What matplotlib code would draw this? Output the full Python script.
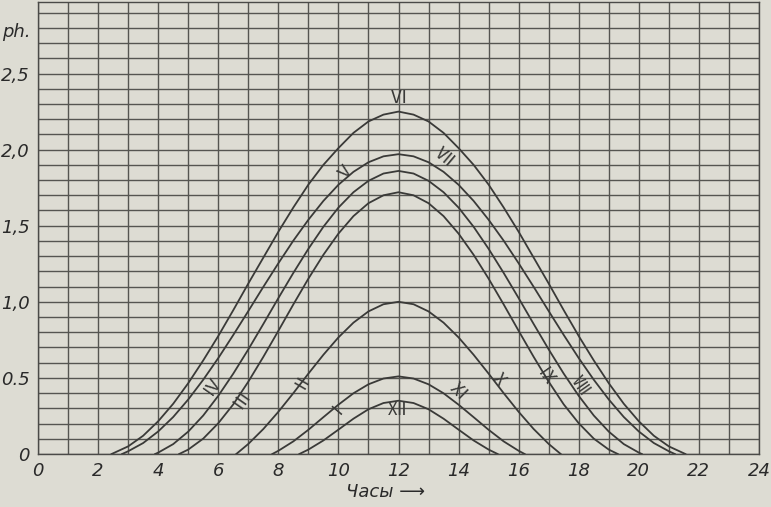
import numpy as np
import matplotlib
matplotlib.use('Agg')
import matplotlib.pyplot as plt

# hours of the day and intensity (ph.), one list per month group
hours_vi = [2.45, 3, 3.5, 4, 4.5, 5, 5.5, 6, 6.5, 7, 7.5, 8, 8.5, 9, 9.5, 10, 10.5, 11, 11.5, 12,
            12.5, 13, 13.5, 14, 14.5, 15, 15.5, 16, 16.5, 17, 17.5, 18, 18.5, 19, 19.5, 20, 20.5, 21, 21.55]
ph_vi = [0, 0.05, 0.12, 0.215, 0.33, 0.465, 0.615, 0.775, 0.945, 1.12, 1.29, 1.46, 1.62, 1.77,
         1.9, 2.01, 2.11, 2.185, 2.23, 2.25, 2.23, 2.185, 2.11, 2.01, 1.9, 1.77, 1.62, 1.46,
         1.29, 1.12, 0.945, 0.775, 0.615, 0.465, 0.33, 0.215, 0.12, 0.05, 0]

hours_v = [2.8, 3, 3.5, 4, 4.5, 5, 5.5, 6, 6.5, 7, 7.5, 8, 8.5, 9, 9.5, 10, 10.5, 11, 11.5, 12,
           12.5, 13, 13.5, 14, 14.5, 15, 15.5, 16, 16.5, 17, 17.5, 18, 18.5, 19, 19.5, 20, 20.5, 21, 21.2]
ph_v = [0, 0.018, 0.072, 0.148, 0.243, 0.358, 0.488, 0.630, 0.782, 0.939, 1.098, 1.253, 1.402, 1.539,
        1.663, 1.769, 1.854, 1.917, 1.956, 1.97, 1.956, 1.917, 1.854, 1.769, 1.663, 1.539, 1.402, 1.253,
        1.098, 0.939, 0.782, 0.630, 0.488, 0.358, 0.243, 0.148, 0.072, 0.018, 0]

hours_iv = [3.9, 4, 4.5, 5, 5.5, 6, 6.5, 7, 7.5, 8, 8.5, 9, 9.5, 10, 10.5, 11, 11.5, 12,
            12.5, 13, 13.5, 14, 14.5, 15, 15.5, 16, 16.5, 17, 17.5, 18, 18.5, 19, 19.5, 20, 20.1]
ph_iv = [0, 0.009, 0.065, 0.147, 0.253, 0.382, 0.528, 0.687, 0.854, 1.024, 1.19, 1.348, 1.493, 1.619,
         1.72, 1.795, 1.843, 1.86, 1.843, 1.795, 1.72, 1.619, 1.493, 1.348, 1.19, 1.024, 0.854, 0.687,
         0.528, 0.382, 0.253, 0.147, 0.065, 0.009, 0]

hours_iii = [4.7, 5, 5.5, 6, 6.5, 7, 7.5, 8, 8.5, 9, 9.5, 10, 10.5, 11, 11.5, 12,
             12.5, 13, 13.5, 14, 14.5, 15, 15.5, 16, 16.5, 17, 17.5, 18, 18.5, 19, 19.3]
ph_iii = [0, 0.029, 0.101, 0.202, 0.326, 0.475, 0.638, 0.809, 0.983, 1.152, 1.309, 1.448, 1.563, 1.648,
          1.70, 1.72, 1.70, 1.648, 1.563, 1.448, 1.309, 1.152, 0.983, 0.809, 0.638, 0.475, 0.326, 0.202,
          0.101, 0.029, 0]

hours_ii = [6.6, 7, 7.5, 8, 8.5, 9, 9.5, 10, 10.5, 11, 11.5, 12,
            12.5, 13, 13.5, 14, 14.5, 15, 15.5, 16, 16.5, 17, 17.4]
ph_ii = [0, 0.066, 0.164, 0.277, 0.40, 0.528, 0.652, 0.766, 0.863, 0.937, 0.984, 1.0,
         0.984, 0.937, 0.863, 0.766, 0.652, 0.528, 0.40, 0.277, 0.164, 0.066, 0]

hours_i = [7.8, 8, 8.5, 9, 9.5, 10, 10.5, 11, 11.5, 12, 12.5, 13, 13.5, 14, 14.5, 15, 15.5, 16, 16.2]
ph_i = [0, 0.021, 0.083, 0.159, 0.242, 0.324, 0.399, 0.458, 0.496, 0.51,
        0.496, 0.458, 0.399, 0.324, 0.242, 0.159, 0.083, 0.021, 0]

hours_xii = [8.7, 9, 9.5, 10, 10.5, 11, 11.5, 12, 12.5, 13, 13.5, 14, 14.5, 15, 15.3]
ph_xii = [0, 0.029, 0.089, 0.16, 0.232, 0.294, 0.335, 0.35, 0.335, 0.294, 0.232, 0.16, 0.089, 0.029, 0]

# month labels: text, hour, ph, rotation
labels = ['Ⅵ', 'Ⅴ', 'Ⅶ', 'Ⅳ', 'Ⅲ', 'Ⅱ', 'Ⅰ', 'Ⅻ', 'Ⅺ', 'Ⅹ', 'Ⅸ', 'Ⅷ']
label_x = [12.0, 10.2, 13.5, 5.8, 6.75, 8.75, 9.9, 11.95, 13.95, 15.3, 16.9, 18.05]
label_y = [2.34, 1.87, 1.95, 0.45, 0.36, 0.49, 0.32, 0.29, 0.41, 0.47, 0.50, 0.45]
label_rot = [0, 50, -40, 55, 55, 60, 50, 0, -45, -50, -55, -55]

paper = '#dddcd3'
ink = '#3a3a38'

fig = plt.figure(figsize=(7.71, 5.07), dpi=100, facecolor=paper)
ax = fig.add_axes([38 / 771, 53 / 507, 721 / 771, 452 / 507])
ax.set_facecolor(paper)

for h, p in [(hours_vi, ph_vi), (hours_v, ph_v), (hours_iv, ph_iv), (hours_iii, ph_iii),
             (hours_ii, ph_ii), (hours_i, ph_i), (hours_xii, ph_xii)]:
    ax.plot(h, p, color=ink, lw=1.3, zorder=3)

for s, x, y, r in zip(labels, label_x, label_y, label_rot):
    ax.text(x, y, s, family=['Noto Sans CJK JP', 'DejaVu Serif'], fontsize=13, color=ink,
            rotation=r, ha='center', va='center', zorder=4)

ax.set_xlim(0, 24)
ax.set_ylim(0, 2.97)
ax.set_xticks(np.arange(0, 25, 2))
ax.set_xticks(np.arange(0, 25, 1), minor=True)
ax.set_yticks([0, 0.5, 1.0, 1.5, 2.0, 2.5])
ax.set_yticks(np.arange(0, 2.95, 0.1), minor=True)
ax.set_xticklabels([str(v) for v in range(0, 25, 2)])
ax.set_yticklabels(['0', '0.5', '1,0', '1,5', '2,0', '2,5'])
ax.tick_params(which='both', length=0, labelsize=13, colors='#2a2a2a', pad=6)
for t in ax.get_xticklabels() + ax.get_yticklabels():
    t.set_fontstyle('italic')
ax.grid(which='both', color='#555551', lw=1.0)
ax.set_axisbelow(True)
for sp in ax.spines.values():
    sp.set_color('#4a4a48')
    sp.set_linewidth(1.0)

ax.text(-0.25, 2.77, 'ph.', fontsize=13, style='italic', ha='right', va='center', color='#2a2a2a')
fig.text(0.5, 15 / 507, 'Часы ⟶', fontsize=13, style='italic', ha='center',
         va='center', color='#2a2a2a')

fig.savefig('out.png', dpi=100, facecolor=paper)
